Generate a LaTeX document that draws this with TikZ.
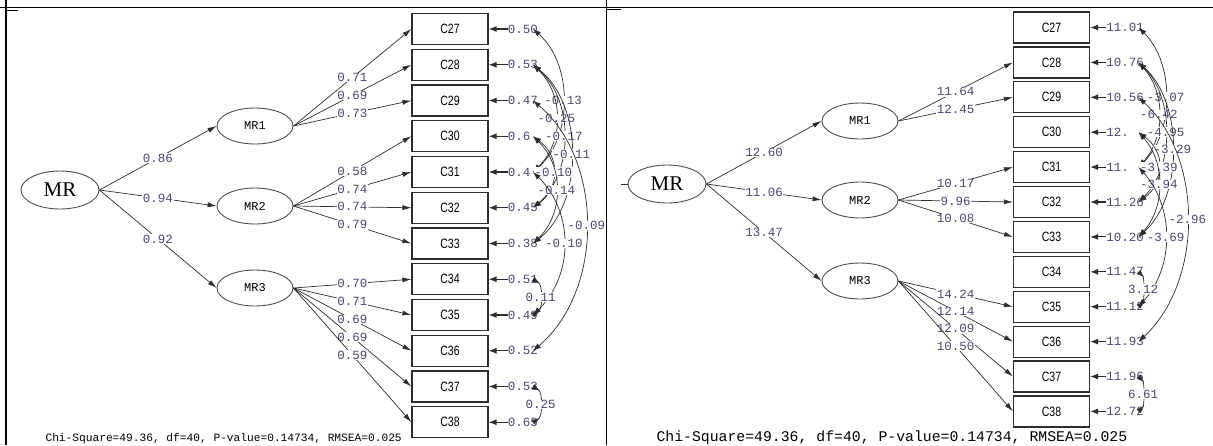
\documentclass[tikz,border=0pt]{standalone}
\usepackage{fontspec}
\usetikzlibrary{positioning,shapes.geometric,arrows.meta}
\newfontfamily\monofnt{Liberation Mono}
\newfontfamily\seriffnt{Liberation Serif}
\newfontfamily\sansfnt[FakeStretch=0.78]{Liberation Sans}
\definecolor{numcol}{RGB}{80,68,112}
\definecolor{linecol}{RGB}{45,45,45}

\begin{document}
\begin{tikzpicture}[x=1pt,y=-1pt,node distance=35.75pt,
  box/.style={draw=linecol, line width=1.2pt, rectangle, minimum width=76pt, minimum height=31pt, inner sep=0pt, font=\sansfnt\fontsize{13.5}{15}\selectfont},
  lat/.style={draw=linecol!85, line width=0.9pt, ellipse, minimum width=76pt, minimum height=36pt, inner sep=0pt, font=\monofnt\fontsize{12}{14}\selectfont},
  big/.style={minimum width=78pt, minimum height=38pt, font=\seriffnt\fontsize{21}{24}\selectfont},
  coef/.style={fill=white, inner sep=0.6pt, text=numcol, font=\monofnt\fontsize{12.5}{14}\selectfont},
  ev/.style={anchor=west, inner sep=0pt, text width=25pt, text=numcol, font=\monofnt\fontsize{12.5}{14}\selectfont},
  load/.style={draw=linecol, line width=0.7pt, -{Latex[length=9pt,width=5pt]}},
  err/.style={draw=linecol, line width=1.1pt, -{Latex[length=8pt,width=6pt]}},
  cov/.style={draw=linecol, line width=0.7pt, {Latex[length=8pt,width=5.5pt]}-{Latex[length=8pt,width=5.5pt]}},
  covn/.style={draw=linecol, line width=0.7pt, {Latex[length=8pt,width=5.5pt,reversed]}-{Latex[length=8pt,width=5.5pt,reversed]}}]
\clip (0,0) rectangle (1213,445);
\draw[line width=1.6pt] (0,7.5) -- (1213,7.5);
\draw[line width=1.6pt] (6,0) -- (6,445);
\draw[line width=1.6pt] (606.5,0) -- (606.5,445);
\draw[line width=0.8pt] (6,10) -- (18,10);
\draw[line width=0.8pt] (606.5,9.5) -- (621,9.5);

\node[lat, big] (Lmr) at (60,190) {MR};
\node[lat] (Lmr1) at (255,126) {MR1};
\node[lat] (Lmr2) at (255,206) {MR2};
\node[lat] (Lmr3) at (255,288) {MR3};
\node[box] (Lc27) at (450,29) {C27};
\node[box] (Lc28) [below of=Lc27] {C28};
\node[box] (Lc29) [below of=Lc28] {C29};
\node[box] (Lc30) [below of=Lc29] {C30};
\node[box] (Lc31) [below of=Lc30] {C31};
\node[box] (Lc32) [below of=Lc31] {C32};
\node[box] (Lc33) [below of=Lc32] {C33};
\node[box] (Lc34) [below of=Lc33] {C34};
\node[box] (Lc35) [below of=Lc34] {C35};
\node[box] (Lc36) [below of=Lc35] {C36};
\node[box] (Lc37) [below of=Lc36] {C37};
\node[box] (Lc38) [below of=Lc37] {C38};
\node[ev, right=19pt of Lc27] (Le27) {0.50};
\node[ev, right=19pt of Lc28] (Le28) {0.53};
\node[ev, right=19pt of Lc29] (Le29) {0.47};
\node[ev, right=19pt of Lc30] (Le30) {0.6};
\node[ev, right=19pt of Lc31] (Le31) {0.4};
\node[ev, right=19pt of Lc32] (Le32) {0.45};
\node[ev, right=19pt of Lc33] (Le33) {0.38};
\node[ev, right=19pt of Lc34] (Le34) {0.51};
\node[ev, right=19pt of Lc35] (Le35) {0.49};
\node[ev, right=19pt of Lc36] (Le36) {0.52};
\node[ev, right=19pt of Lc37] (Le37) {0.53};
\node[ev, right=19pt of Lc38] (Le38) {0.65};
\draw[err] (Le27.west) -- (Lc27.east);
\draw[err] (Le28.west) -- (Lc28.east);
\draw[err] (Le29.west) -- (Lc29.east);
\draw[err] (Le30.west) -- (Lc30.east);
\draw[err] (Le31.west) -- (Lc31.east);
\draw[err] (Le32.west) -- (Lc32.east);
\draw[err] (Le33.west) -- (Lc33.east);
\draw[err] (Le34.west) -- (Lc34.east);
\draw[err] (Le35.west) -- (Lc35.east);
\draw[err] (Le36.west) -- (Lc36.east);
\draw[err] (Le37.west) -- (Lc37.east);
\draw[err] (Le38.west) -- (Lc38.east);
\draw[load] (Lmr.east) -- (Lmr1.west) node[coef, pos=.5] {0.86};
\draw[load] (Lmr.east) -- (Lmr2.west) node[coef, pos=.5] {0.94};
\draw[load] (Lmr.east) -- (Lmr3.west) node[coef, pos=.5] {0.92};
\draw[load] (Lmr1.east) -- (Lc27.west) node[coef, pos=.5] {0.71};
\draw[load] (Lmr1.east) -- (Lc28.west) node[coef, pos=.5] {0.69};
\draw[load] (Lmr1.east) -- (Lc29.west) node[coef, pos=.5] {0.73};
\draw[load] (Lmr2.east) -- (Lc30.west) node[coef, pos=.5] {0.58};
\draw[load] (Lmr2.east) -- (Lc31.west) node[coef, pos=.5] {0.74};
\draw[load] (Lmr2.east) -- (Lc32.west) node[coef, pos=.5] {0.74};
\draw[load] (Lmr2.east) -- (Lc33.west) node[coef, pos=.5] {0.79};
\draw[load] (Lmr3.east) -- (Lc34.west) node[coef, pos=.5] {0.70};
\draw[load] (Lmr3.east) -- (Lc35.west) node[coef, pos=.5] {0.71};
\draw[load] (Lmr3.east) -- (Lc36.west) node[coef, pos=.5] {0.69};
\draw[load] (Lmr3.east) -- (Lc37.west) node[coef, pos=.5] {0.69};
\draw[load] (Lmr3.east) -- (Lc38.west) node[coef, pos=.5] {0.59};
\draw[cov] (Le27.east) .. controls +(40,35) and +(40,-35) .. (Le31.east) node[coef, pos=.5] {-0.13};
\draw[cov] (Le28.east) .. controls +(31,30) and +(31,-30) .. (Le31.east) node[coef, pos=.5] {-0.25};
\draw[cov] (Le28.east) .. controls +(41,35) and +(41,-35) .. (Le32.east) node[coef, pos=.5] {-0.17};
\draw[cov] (Le28.east) .. controls +(51,40) and +(51,-40) .. (Le33.east) node[coef, pos=.5] {-0.11};
\draw[cov] (Le30.east) .. controls +(27,20) and +(27,-20) .. (Le32.east) node[coef, pos=.5] {-0.10};
\draw[cov] (Le30.east) .. controls +(31,30) and +(31,-30) .. (Le33.east) node[coef, pos=.5] {-0.14};
\draw[cov] (Le29.east) .. controls +(71,60) and +(71,-60) .. (Le36.east) node[coef, pos=.5] {-0.09};
\draw[cov] (Le31.east) .. controls +(41,40) and +(41,-40) .. (Le35.east) node[coef, pos=.5] {-0.10};
\draw[covn] (Le34.east) .. controls +(10,6) and +(10,-6) .. (Le35.east) node[coef, pos=.5] {0.11};
\draw[covn] (Le37.east) .. controls +(10,6) and +(10,-6) .. (Le38.east) node[coef, pos=.5] {0.25};
\node[anchor=base west, font=\monofnt\fontsize{11.2}{13}\selectfont] (chiL) at (42,441) {Chi-Square=49.36, df=40, P-value=0.14734, RMSEA=0.025};

\node[lat, big] (Rmr) at (667,184) {MR};
\coordinate (Rstub) at (621,184);
\draw[draw=linecol, line width=0.7pt] (Rstub) -- (Rmr.west);
\node[lat] (Rmr1) at (860,121) {MR1};
\node[lat] (Rmr2) at (860,200) {MR2};
\node[lat] (Rmr3) at (860,281) {MR3};
\begin{scope}[node distance=34.9pt]
\node[box] (Rc27) at (1051.5,27.5) {C27};
\node[box] (Rc28) [below of=Rc27] {C28};
\node[box] (Rc29) [below of=Rc28] {C29};
\node[box] (Rc30) [below of=Rc29] {C30};
\node[box] (Rc31) [below of=Rc30] {C31};
\node[box] (Rc32) [below of=Rc31] {C32};
\node[box] (Rc33) [below of=Rc32] {C33};
\node[box] (Rc34) [below of=Rc33] {C34};
\node[box] (Rc35) [below of=Rc34] {C35};
\node[box] (Rc36) [below of=Rc35] {C36};
\node[box] (Rc37) [below of=Rc36] {C37};
\node[box] (Rc38) [below of=Rc37] {C38};
\end{scope}
\node[ev, text width=32pt, right=16pt of Rc27] (Re27) {11.01};
\node[ev, text width=32pt, right=16pt of Rc28] (Re28) {10.76};
\node[ev, text width=32pt, right=16pt of Rc29] (Re29) {10.56};
\node[ev, text width=32pt, right=16pt of Rc30] (Re30) {12.};
\node[ev, text width=32pt, right=16pt of Rc31] (Re31) {11.};
\node[ev, text width=32pt, right=16pt of Rc32] (Re32) {11.26};
\node[ev, text width=32pt, right=16pt of Rc33] (Re33) {10.20};
\node[ev, text width=32pt, right=16pt of Rc34] (Re34) {11.47};
\node[ev, text width=32pt, right=16pt of Rc35] (Re35) {11.12};
\node[ev, text width=32pt, right=16pt of Rc36] (Re36) {11.93};
\node[ev, text width=32pt, right=16pt of Rc37] (Re37) {11.96};
\node[ev, text width=32pt, right=16pt of Rc38] (Re38) {12.72};
\draw[err] (Re27.west) -- (Rc27.east);
\draw[err] (Re28.west) -- (Rc28.east);
\draw[err] (Re29.west) -- (Rc29.east);
\draw[err] (Re30.west) -- (Rc30.east);
\draw[err] (Re31.west) -- (Rc31.east);
\draw[err] (Re32.west) -- (Rc32.east);
\draw[err] (Re33.west) -- (Rc33.east);
\draw[err] (Re34.west) -- (Rc34.east);
\draw[err] (Re35.west) -- (Rc35.east);
\draw[err] (Re36.west) -- (Rc36.east);
\draw[err] (Re37.west) -- (Rc37.east);
\draw[err] (Re38.west) -- (Rc38.east);
\draw[load] (Rmr.east) -- (Rmr1.west) node[coef, pos=.5] {12.60};
\draw[load] (Rmr.east) -- (Rmr2.west) node[coef, pos=.5] {11.06};
\draw[load] (Rmr.east) -- (Rmr3.west) node[coef, pos=.5] {13.47};
\draw[load] (Rmr1.east) -- (Rc28.west) node[coef, pos=.5] {11.64};
\draw[load] (Rmr1.east) -- (Rc29.west) node[coef, pos=.5] {12.45};
\draw[load] (Rmr2.east) -- (Rc31.west) node[coef, pos=.5] {10.17};
\draw[load] (Rmr2.east) -- (Rc32.west) node[coef, pos=.5] {9.96};
\draw[load] (Rmr2.east) -- (Rc33.west) node[coef, pos=.5] {10.08};
\draw[load] (Rmr3.east) -- (Rc35.west) node[coef, pos=.5] {14.24};
\draw[load] (Rmr3.east) -- (Rc36.west) node[coef, pos=.5] {12.14};
\draw[load] (Rmr3.east) -- (Rc37.west) node[coef, pos=.5] {12.09};
\draw[load] (Rmr3.east) -- (Rc38.west) node[coef, pos=.5] {10.50};
\draw[cov] (Re27.east) .. controls +(36,35) and +(36,-35) .. (Re31.east) node[coef, pos=.5] {-3.07};
\draw[cov] (Re28.east) .. controls +(27,30) and +(27,-30) .. (Re31.east) node[coef, pos=.5] {-6.42};
\draw[cov] (Re28.east) .. controls +(36,35) and +(36,-35) .. (Re32.east) node[coef, pos=.5] {-4.95};
\draw[cov] (Re28.east) .. controls +(45,40) and +(45,-40) .. (Re33.east) node[coef, pos=.5] {-3.29};
\draw[cov] (Re30.east) .. controls +(27,20) and +(27,-20) .. (Re32.east) node[coef, pos=.5] {-3.39};
\draw[cov] (Re30.east) .. controls +(27,30) and +(27,-30) .. (Re33.east) node[coef, pos=.5] {-3.94};
\draw[cov] (Re29.east) .. controls +(65,60) and +(65,-60) .. (Re36.east) node[coef, pos=.5] {-2.96};
\draw[cov] (Re31.east) .. controls +(36,40) and +(36,-40) .. (Re35.east) node[coef, pos=.5] {-3.69};
\draw[covn] (Re34.east) .. controls +(6,6) and +(6,-6) .. (Re35.east) node[coef, pos=.5] {3.12};
\draw[covn] (Re37.east) .. controls +(6,6) and +(6,-6) .. (Re38.east) node[coef, pos=.5] {6.61};
\node[anchor=base west, font=\monofnt\fontsize{14.8}{16}\selectfont] (chiR) at (653,441) {Chi-Square=49.36, df=40, P-value=0.14734, RMSEA=0.025};
\end{tikzpicture}
\end{document}
